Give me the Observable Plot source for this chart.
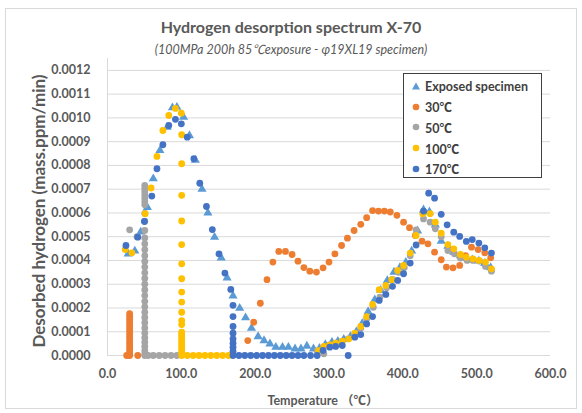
<!DOCTYPE html>
<html><head><meta charset="utf-8">
<script src="https://cdn.jsdelivr.net/npm/d3@7"></script>
<script src="https://cdn.jsdelivr.net/npm/@observablehq/plot@0.6"></script>
<style>
body{margin:0;background:#fff;font-family:Lato,"Noto Sans CJK SC",sans-serif;}
#wrap{position:relative;width:582px;height:413px;overflow:hidden;background:#fff;}
#frame{position:absolute;left:5px;top:8px;width:572px;height:401px;border:1px solid #d9d9d9;box-sizing:border-box;}
#title{position:absolute;left:0;width:582px;top:17px;text-align:center;font-size:16px;font-weight:bold;color:#595959;}
#subtitle{position:absolute;left:0;width:582px;top:39px;text-align:center;font-size:12.5px;font-style:italic;color:#595959;}
#chart{position:absolute;left:0;top:0;}
#chart svg text{font-weight:bold;fill:#595959;}
#ytitle{position:absolute;left:38px;top:211px;transform:translate(-50%,-50%) rotate(-90deg);white-space:nowrap;font-size:17px;font-weight:bold;color:#595959;}
#xtitle{position:absolute;left:323px;top:399px;transform:translate(-50%,-50%);white-space:nowrap;font-size:12.5px;font-weight:bold;color:#595959;}
#legend{position:absolute;left:403px;top:73px;width:139px;height:105px;border:1px solid #404040;box-sizing:border-box;background:#fff;padding-top:2px;}
.li{height:20.6px;display:flex;align-items:center;font-size:12.5px;font-weight:bold;color:#404040;}
.li svg{margin-left:8px;margin-right:5px;}
</style></head><body>
<div id="wrap">
 <div id="frame"></div>
 <div id="title">Hydrogen desorption spectrum X-70</div>
 <div id="subtitle">(100MPa 200h 85℃exposure - φ19XL19 specimen)</div>
 <div id="chart"></div>
 <div id="ytitle">Desorbed hydrogen (mass.ppm/min)</div>
 <div id="xtitle">Temperature （℃）</div>
 <div id="legend"></div>
</div>
<script>
const seriesNames = ["Exposed specimen","30℃","50℃","100℃","170℃"];
const seriesColors = ["#5B9BD5","#ED7D31","#A5A5A5","#FFC000","#4472C4"];
const xTicks = [0,100,200,300,400,500,600];
const yTicks = [0,0.0001,0.0002,0.0003,0.0004,0.0005,0.0006,0.0007,0.0008,0.0009,0.0010,0.0011,0.0012];

const exposedT = [28,37,45,54,62,71,81,88,94,103,111,119,128,136,145,154,162,170,179,187,195,204,212,220,228,237,245,254,262,270,279,287,295,304,312,320,329,337,345,353,362,370,379,388,396,404,412,420,428,436,444,452,461,469,478,486,494,503,511,519];
const exposedV = [0.000428,0.00044,0.00052,0.000624,0.000744,0.000863,0.000961,0.001043,0.001045,0.001003,0.000926,0.000822,0.0007,0.0006,0.000498,0.000411,0.000327,0.000251,0.000199,0.000159,0.000115,0.00008,0.000063,0.000049,0.000035,0.000035,0.000035,0.000028,0.000028,0.00004,0.000028,0.00003,0.000046,0.000056,0.00006,0.000068,0.00008,0.0001,0.000135,0.000185,0.000235,0.000274,0.000316,0.000351,0.00037,0.000392,0.00044,0.000525,0.000613,0.000605,0.00055,0.000481,0.00046,0.000435,0.00042,0.00041,0.000403,0.000398,0.000388,0.00037];

const t30T = [30,30,30,30,30,30,30,30,30,30,30,30,30,30,30,30,26,41,190,198,207,216,224,232,241,250,258,266,274,283,292,300,308,317,325,334,343,351,359,367,375,383,392,401,409,417,426,434,443,452,459,468,477,485,493,502,511,519];
const t30V = [0.000176,0.000165,0.000153,0.000141,0.000129,0.000117,0.000105,0.000093,0.000081,0.000069,0.000057,0.000045,0.000033,0.000021,0.00001,0,0,0,0.000063,0.00014,0.00022,0.000319,0.000393,0.000438,0.000438,0.000425,0.000397,0.00037,0.000355,0.000351,0.000369,0.000393,0.000428,0.000463,0.000494,0.000526,0.000552,0.00058,0.00061,0.000608,0.000608,0.000604,0.00059,0.000561,0.000538,0.000505,0.000481,0.00047,0.000435,0.000403,0.000372,0.000369,0.000379,0.00042,0.000456,0.000446,0.000432,0.000411];

const t50T = [30,40,50.5,50.5,50.5,50.5,50.5,50.5,50.5,50.5,50.5,50.5,50.5,50.5,50.5,50.5,50.5,50.5,50.5,50.5,50.5,50.5,50.5,50.5,50.5,50.5,50.5,50.5,50.5,50.5,50.5,50.5,50.5,50.5,50.5,50.5,55,62,70,78,86,94,284,293,301,309,318,326,335,343,351,360,369,378,386,394,402,410,418,428,437,444,452,461,470,478,487,495,504,512,520];
const t50V = [0.000529,0.0005,0.000716,0.000703,0.00069,0.000676,0.000662,0.000648,0.000634,0.000598,0.000565,0.000526,0.000495,0.00047,0.000445,0.00042,0.000396,0.000372,0.000348,0.000324,0.0003,0.000276,0.000252,0.000228,0.000205,0.000182,0.00016,0.000138,0.000116,0.000095,0.000075,0.000056,0.000038,0.00002,0.000006,0,0,0,0,0,0,0,0.00002,0.000007,0.000045,0.000052,0.00006,0.00007,0.00009,0.000115,0.000155,0.000203,0.000246,0.000285,0.00032,0.00035,0.00037,0.00042,0.000529,0.000575,0.000561,0.000533,0.0005,0.000442,0.000428,0.00041,0.0004,0.0004,0.000397,0.000375,0.000355];

const t100T = [24,33,51,59,67,75,83,92,100,100.5,100.5,100.5,100.5,100.5,100.5,100.5,100.5,100.5,100.5,100.5,100.5,100.5,100.5,100.5,100.5,100.5,100.5,100.5,100.5,100.5,100.5,100.5,108,116,124,132,140,148,156,164,286,293,301,309,318,327,335,343,351,359,368,377,385,393,401,410,418,427,437,444,452,461,469,478,486,495,503,512,520];
const t100V = [0.000446,0.000432,0.000597,0.000705,0.000838,0.000947,0.00101,0.00104,0.00102,0.000929,0.000807,0.000674,0.000566,0.000467,0.000386,0.000323,0.000267,0.000225,0.000182,0.000147,0.00013,0.000098,0.000088,0.000078,0.000068,0.000058,0.000048,0.000038,0.000028,0.000018,0.000009,0,0,0,0,0,0,0,0,0,0.00002,0.000038,0.000045,0.000052,0.00006,0.00007,0.000094,0.000122,0.000164,0.000215,0.000277,0.000295,0.000319,0.000358,0.000379,0.000431,0.000505,0.000597,0.000597,0.000561,0.000515,0.000467,0.000449,0.000425,0.000414,0.000407,0.0004,0.000393,0.000365];

const t170T = [25,41,50,60,67,75,83,92,100,108,117,125,134,142,151,159,167,170,170,170,170,170,170,170,170,170,178,186,194,202,210,218,226,234,242,250,258,266,275,284,292,301,309,318,326,335,343,351,359,368,377,386,393,401,410,418,428,435,443,452,460,469,477,486,494,503,511,520];
const t170V = [0.000463,0.000498,0.000564,0.000671,0.000786,0.000887,0.000968,0.000994,0.000975,0.000919,0.000828,0.000725,0.000627,0.00053,0.000428,0.000347,0.000278,0.000211,0.000164,0.000122,0.000094,0.00007,0.000052,0.000035,0.000018,0,0,0,0,0,0,0,0,0,0,0,0,0,0,0,0.000021,0.000035,0.000038,0.000042,0,0.000077,0.000088,0.000133,0.000164,0.000232,0.000257,0.000291,0.000316,0.000344,0.000389,0.000465,0.000608,0.000683,0.000662,0.000594,0.00055,0.000519,0.000501,0.00048,0.000488,0.000473,0.000453,0.000431];

const allT = [exposedT,t30T,t50T,t100T,t170T];
const allV = [exposedV,t30V,t50V,t100V,t170V];
const series = allT.map((ts,i)=>ts.map((t,j)=>({T:t,V:allV[i][j]})));

const plot = Plot.plot({
  width:582, height:413,
  marginLeft:107, marginRight:32, marginTop:58, marginBottom:58,
  style:{fontFamily:'Lato,"Noto Sans CJK SC",sans-serif', background:"transparent", overflow:"visible"},
  x:{domain:[0,600]},
  y:{domain:[0,0.00125]},
  marks:[
    Plot.gridY(yTicks,{stroke:"#d9d9d9",strokeOpacity:1}),
    Plot.ruleX([0],{stroke:"#d9d9d9"}),
    Plot.ruleY([0],{stroke:"#d9d9d9"}),
    Plot.axisX(xTicks,{tickSize:0,tickPadding:14,tickFormat:d=>d.toFixed(1),label:null,fontSize:12.5}),
    Plot.axisY(yTicks,{tickSize:0,tickPadding:17,tickFormat:d=>d.toFixed(4),label:null,fontSize:12.5}),
    ...series.map((s,i)=>Plot.dot(s,{x:"T",y:"V",fill:seriesColors[i],stroke:"none",
        symbol: i===0 ? "triangle" : "circle", r:3.4}))
  ]
});
document.getElementById("chart").appendChild(plot);

const lg = document.getElementById("legend");
seriesNames.forEach((n,i)=>{
  const row = document.createElement("div");
  row.className="li";
  const shape = i===0
    ? `<polygon points="4,0.5 8,7.5 0,7.5" fill="${seriesColors[i]}"/>`
    : `<circle cx="4" cy="4" r="3.3" fill="${seriesColors[i]}"/>`;
  row.innerHTML = `<svg width="8" height="8" viewBox="0 0 8 8">${shape}</svg><span>${n}</span>`;
  lg.appendChild(row);
});
</script>
</body></html>
